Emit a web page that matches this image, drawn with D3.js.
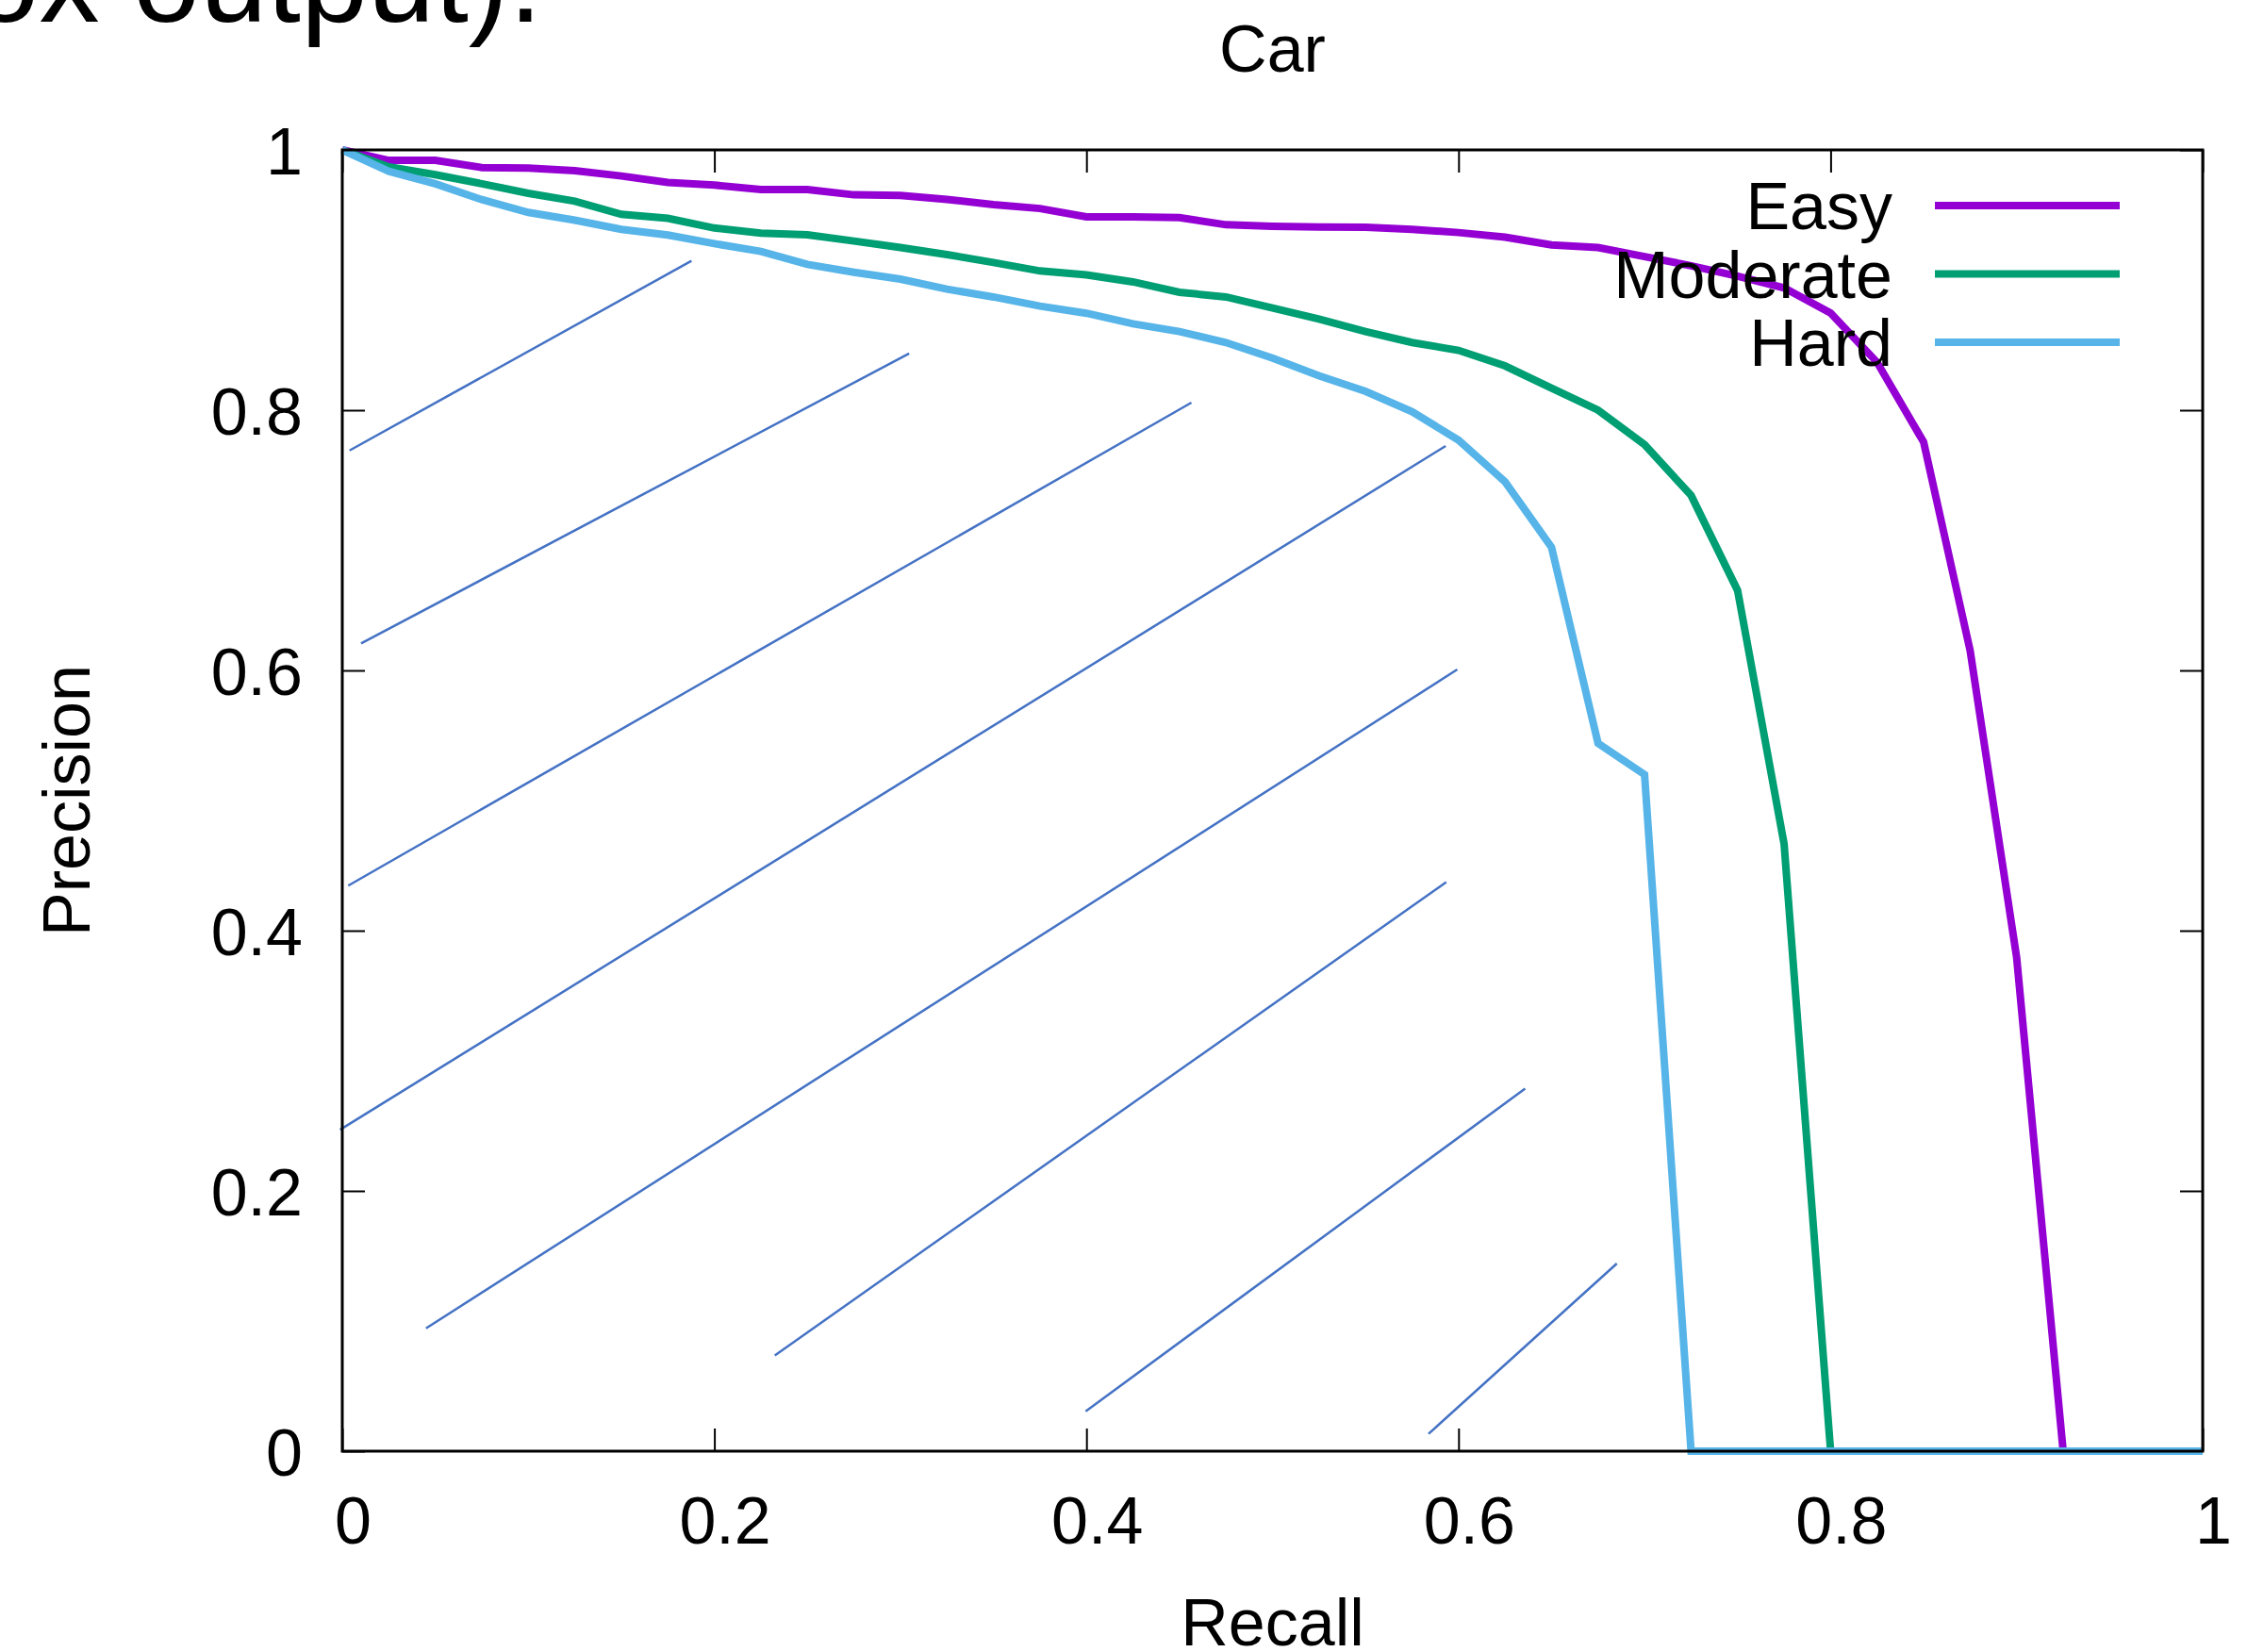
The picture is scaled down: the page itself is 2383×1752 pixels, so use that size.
<!DOCTYPE html>
<html>
<head>
<meta charset="utf-8" />
<title>Car</title>
<style>
html, body {
    padding: 0px;
    margin: 0px;
    background: #fff;
}
svg text {
    font-family: "Liberation Sans", Arial, Helvetica, sans-serif;
    fill: #000;
}
</style>
</head>
<body>
<div id="chart"></div>

<script src="https://d3js.org/d3.v7.min.js"></script>
<script>
!(function(){
    "use strict"

    // recall positions (41-point interpolation)
    var recall = [0, 0.025, 0.05, 0.075, 0.1, 0.125, 0.15, 0.175, 0.2, 0.225,
        0.25, 0.275, 0.3, 0.325, 0.35, 0.375, 0.4, 0.425, 0.45, 0.475,
        0.5, 0.525, 0.55, 0.575, 0.6, 0.625, 0.65, 0.675, 0.7, 0.725,
        0.75, 0.775, 0.8, 0.825, 0.85, 0.875, 0.9, 0.925, 0.95, 0.975, 1]

    var easy = [1.0, 0.992, 0.992, 0.9865, 0.986, 0.984, 0.980, 0.975, 0.973, 0.9696,
        0.9696, 0.9655, 0.965, 0.962, 0.958, 0.955, 0.9486, 0.9486, 0.948, 0.9425,
        0.9413, 0.9408, 0.9406, 0.939, 0.9365, 0.933, 0.927, 0.925, 0.918, 0.911,
        0.903, 0.894, 0.8746, 0.8367, 0.7755, 0.6153, 0.3794, 0, 0, 0, 0]

    var moderate = [1.0, 0.987, 0.981, 0.974, 0.9667, 0.9606, 0.9505, 0.9474, 0.940, 0.936,
        0.9348, 0.930, 0.925, 0.9196, 0.9135, 0.907, 0.904, 0.8986, 0.8906, 0.887,
        0.8785, 0.870, 0.8604, 0.852, 0.846, 0.834, 0.817, 0.800, 0.7735, 0.7345,
        0.6615, 0.4667, 0, 0, 0, 0, 0, 0, 0, 0, 0]

    var hard = [1.0, 0.9836, 0.974, 0.9618, 0.952, 0.946, 0.939, 0.9346, 0.928, 0.922,
        0.912, 0.906, 0.9007, 0.893, 0.887, 0.880, 0.8745, 0.8664, 0.8604, 0.852,
        0.840, 0.8265, 0.8145, 0.7988, 0.777, 0.745, 0.6946, 0.544, 0.520, 0,
        0, 0, 0, 0, 0, 0, 0, 0, 0, 0, 0]

    var seriesNames = ["Easy", "Moderate", "Hard"]
    var seriesColors = ["#9400d3", "#009e73", "#56b4e9"]

    var xTicks = [0, 0.2, 0.4, 0.6, 0.8, 1]
    var yTicks = [0, 0.2, 0.4, 0.6, 0.8, 1]

    // hand-drawn hatch strokes over the plot: [recall1, precision1, recall2, precision2]
    var hatch = [
        [0.0039, 0.769, 0.1877, 0.9147],
        [0.0101, 0.6207, 0.3047, 0.8435],
        [0.0032, 0.4346, 0.4564, 0.8058],
        [-0.0012, 0.247, 0.5931, 0.7725],
        [0.045, 0.0944, 0.5993, 0.6007],
        [0.2325, 0.0736, 0.5934, 0.4373],
        [0.3996, 0.0307, 0.6358, 0.2786],
        [0.5839, 0.0133, 0.6851, 0.1442]
    ]

    var W = 2383, H = 1752
    var left = 363, right = 2336, top = 159, bottom = 1539

    var svg = d3.select("#chart").append("svg")
        .attr("width", W)
        .attr("height", H)
        .style("display", "block")

    svg.append("rect").attr("width", W).attr("height", H).attr("fill", "#fff")

    var x = d3.scaleLinear().domain([0, 1]).range([left, right])
    var y = d3.scaleLinear().domain([0, 1]).range([bottom, top])

    // slide text cut off at the top
    svg.append("text")
        .attr("x", 575)
        .attr("y", 23)
        .attr("text-anchor", "end")
        .style("font-size", "128px")
        .text("ox output).")

    // axes (ticks point inward, mirrored on top/right)
    var fmt = function(d){ return d3.format("~g")(d) }

    var gx = svg.append("g")
        .attr("transform", "translate(0," + bottom + ")")
        .call(d3.axisBottom(x).tickValues(xTicks).tickSize(-24).tickPadding(48).tickFormat(fmt))
    var gy = svg.append("g")
        .attr("transform", "translate(" + left + ",0)")
        .call(d3.axisLeft(y).tickValues(yTicks).tickSize(-24).tickPadding(42).tickFormat(fmt))
    var gt = svg.append("g")
        .attr("transform", "translate(0," + top + ")")
        .call(d3.axisTop(x).tickValues(xTicks).tickSize(-24).tickFormat(""))
    var gr = svg.append("g")
        .attr("transform", "translate(" + right + ",0)")
        .call(d3.axisRight(y).tickValues(yTicks).tickSize(-24).tickFormat(""))

    ;[gx, gy, gt, gr].forEach(function(g){
        g.select(".domain").remove()
        g.selectAll(".tick line").attr("stroke", "#000").attr("stroke-width", 2)
        g.selectAll(".tick text")
            .attr("font-family", null)
            .style("font-size", "70px")
            .attr("fill", "#000")
    })
    gx.selectAll(".tick text").attr("dx", 11)
    gy.selectAll(".tick text").attr("dy", "0.36em")

    // hatch strokes
    svg.append("g").selectAll("line")
        .data(hatch)
        .enter()
        .append("line")
        .attr("x1", function(d){ return x(d[0]) })
        .attr("y1", function(d){ return y(d[1]) })
        .attr("x2", function(d){ return x(d[2]) })
        .attr("y2", function(d){ return y(d[3]) })
        .attr("stroke", "#4472c4")
        .attr("stroke-width", 2.5)

    // PR curves
    var series = [easy, moderate, hard].map(function(vals, i){
        return {
            name: seriesNames[i],
            color: seriesColors[i],
            points: vals.map(function(v, j){ return { r: recall[j], p: v } })
        }
    })

    var line = d3.line()
        .x(function(d){ return x(d.r) })
        .y(function(d){ return y(d.p) })

    svg.append("g").selectAll("path")
        .data(series)
        .enter()
        .append("path")
        .attr("d", function(d){ return line(d.points) })
        .attr("fill", "none")
        .attr("stroke", function(d){ return d.color })
        .attr("stroke-width", 8)
        .attr("stroke-linejoin", "miter")

    // border on top of curves
    svg.append("rect")
        .attr("x", left)
        .attr("y", top)
        .attr("width", right - left)
        .attr("height", bottom - top)
        .attr("fill", "none")
        .attr("stroke", "#000")
        .attr("stroke-width", 3)

    // legend
    var legend = svg.append("g").selectAll("g")
        .data(series)
        .enter()
        .append("g")
        .attr("transform", function(d, i){ return "translate(0," + (218 + i * 72.5) + ")" })

    legend.append("text")
        .attr("x", 2007)
        .attr("y", 25)
        .attr("text-anchor", "end")
        .style("font-size", "70px")
        .text(function(d){ return d.name })

    legend.append("line")
        .attr("x1", 2052)
        .attr("x2", 2248)
        .attr("stroke", function(d){ return d.color })
        .attr("stroke-width", 8)

    // titles
    svg.append("text")
        .attr("x", (left + right) / 2)
        .attr("y", 76)
        .attr("text-anchor", "middle")
        .style("font-size", "70px")
        .text("Car")

    svg.append("text")
        .attr("x", (left + right) / 2)
        .attr("y", 1745)
        .attr("text-anchor", "middle")
        .style("font-size", "70px")
        .text("Recall")

    svg.append("text")
        .attr("transform", "translate(95," + ((top + bottom) / 2) + ") rotate(-90)")
        .attr("text-anchor", "middle")
        .style("font-size", "70px")
        .text("Precision")

}());
</script>
</body>
</html>
